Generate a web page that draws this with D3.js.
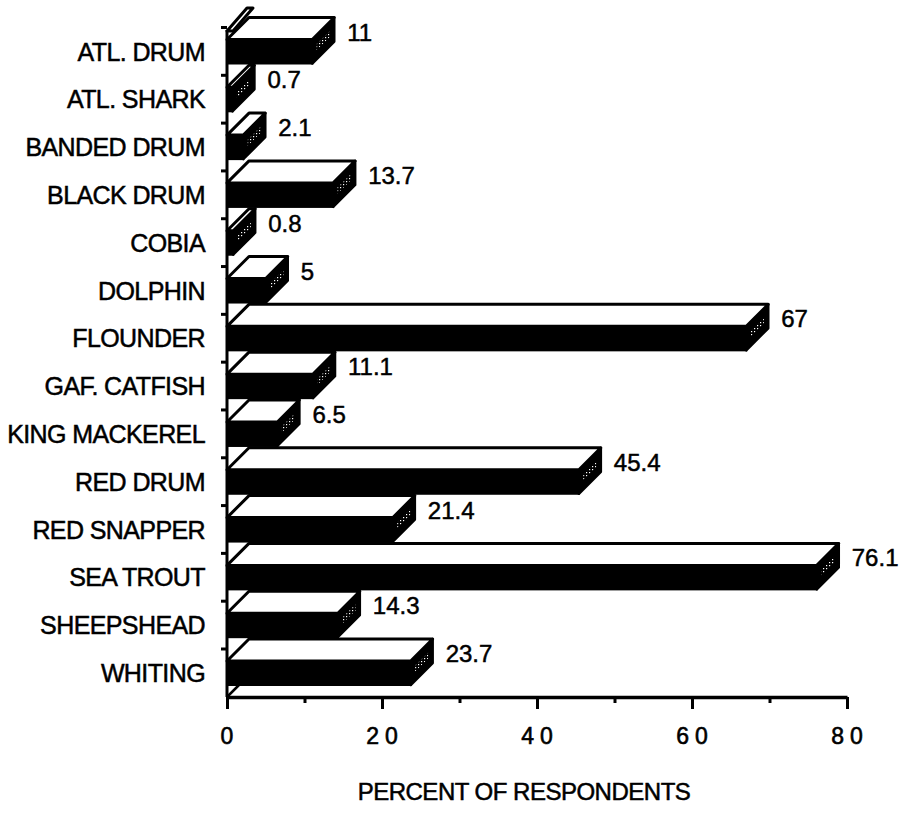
<!DOCTYPE html>
<html>
<head>
<meta charset="utf-8">
<script src="https://cdn.jsdelivr.net/npm/d3@7"></script>
<style>
  html, body { margin: 0; padding: 0; background: #fff; }
  svg { display: block; }
  text { font-family: "Liberation Sans", Arial, Helvetica, sans-serif; fill: #000; }
</style>
</head>
<body>
<svg id="chart" width="912" height="824"></svg>
<script>
// Species caught, share of respondents (%)
const categories = [
  "ATL. DRUM", "ATL. SHARK", "BANDED DRUM", "BLACK DRUM", "COBIA", "DOLPHIN",
  "FLOUNDER", "GAF. CATFISH", "KING MACKEREL", "RED DRUM", "RED SNAPPER",
  "SEA TROUT", "SHEEPSHEAD", "WHITING"
];
const values = [11, 0.7, 2.1, 13.7, 0.8, 5, 67, 11.1, 6.5, 45.4, 21.4, 76.1, 14.3, 23.7];
const majorTicks = [0, 20, 40, 60, 80];
const minorTicks = [10, 30, 50, 70];
const xTitle = "PERCENT OF RESPONDENTS";

const svg = d3.select("#chart");

const x = d3.scaleLinear().domain([0, 80]).range([227, 847]);
const y = d3.scalePoint().domain(categories).range([51.5, 673]);

const depth = 22;      // 3-D offset of the bars (right and up)
const half = 12;       // half height of a bar's front face
const axisY = 697;
const x0 = x(0);

// stipple used on the bar ends
const defs = svg.append("defs");
const pat = defs.append("pattern")
  .attr("id", "stipple").attr("patternUnits", "userSpaceOnUse")
  .attr("width", 3).attr("height", 3);
pat.append("rect").attr("width", 3).attr("height", 3).attr("fill", "#000");
pat.append("rect").attr("x", 1).attr("y", 1).attr("width", 1.2).attr("height", 1.2).attr("fill", "#fff");

// top edge of the back wall
svg.append("polygon")
  .attr("points", [[x0, 31], [x0 + depth - 2, 8], [x0 + depth + 4, 8], [x0 + 6, 31]].join(" "))
  .attr("fill", "#fff").attr("stroke", "#000").attr("stroke-width", 3)
  .attr("stroke-linejoin", "round");

// vertical axis with ticks between categories
svg.append("line")
  .attr("x1", x0).attr("x2", x0).attr("y1", 30).attr("y2", axisY)
  .attr("stroke", "#000").attr("stroke-width", 3);
svg.append("g").selectAll("line").data(categories).join("line")
  .attr("x1", x0 - 6).attr("x2", x0)
  .attr("y1", d => y(d) - 24).attr("y2", d => y(d) - 24)
  .attr("stroke", "#000").attr("stroke-width", 3);

// floor corner
svg.append("line")
  .attr("x1", x0).attr("y1", axisY).attr("x2", x0 + 13).attr("y2", axisY - 13)
  .attr("stroke", "#000").attr("stroke-width", 2.5);

// horizontal axis
const xAxis = d3.axisBottom(x)
  .tickValues(majorTicks.concat(minorTicks).sort((a, b) => a - b))
  .tickSizeOuter(0)
  .tickFormat("");
const gx = svg.append("g").attr("transform", `translate(0,${axisY})`).call(xAxis);
gx.select(".domain").attr("stroke", "#000").attr("stroke-width", 3.5);
gx.selectAll(".tick line")
  .attr("stroke", "#000").attr("stroke-width", 3)
  .attr("y2", d => majorTicks.includes(d) ? 12 : 6);

svg.append("g").selectAll("text").data(majorTicks).join("text")
  .attr("x", d => x(d) + 3)
  .attr("y", 744)
  .attr("text-anchor", "middle")
  .attr("font-size", 23)
  .attr("letter-spacing", 6)
  .attr("stroke", "#000").attr("stroke-width", 0.6)
  .text(d => d);

// bars
const bars = svg.append("g").selectAll("g").data(categories).join("g");

bars.each(function (cat, i) {
  const g = d3.select(this);
  const c = y(cat);
  const x1 = x(values[i]);
  const yt = c - half, yb = c + half;

  // front face
  g.append("rect")
    .attr("x", x0).attr("y", yt).attr("width", x1 - x0).attr("height", yb - yt)
    .attr("fill", "#000").attr("stroke", "#000").attr("stroke-width", 2);

  // end face
  g.append("polygon")
    .attr("points", [[x1, yt], [x1 + depth, yt - depth], [x1 + depth, yb - depth], [x1, yb]].join(" "))
    .attr("fill", "#000").attr("stroke", "#000").attr("stroke-width", 2.5)
    .attr("stroke-linejoin", "round");
  const p = (t, yy) => [x1 + t * depth, yy - t * depth];
  g.append("polygon")
    .attr("points", [p(0.2, c + 3), p(0.8, c + 3), p(0.8, c - 3), p(0.2, c - 3)].join(" "))
    .attr("fill", "url(#stipple)");

  // top face
  g.append("polygon")
    .attr("points", [[x0, yt], [x0 + depth, yt - depth], [x1 + depth, yt - depth], [x1, yt]].join(" "))
    .attr("fill", "#fff").attr("stroke", "#000").attr("stroke-width", 3)
    .attr("stroke-linejoin", "round");

  // value label
  g.append("text")
    .attr("x", x1 + depth + 13)
    .attr("y", c - 11)
    .attr("font-size", 24)
    .attr("stroke", "#000").attr("stroke-width", 0.5)
    .text(values[i]);
});

// category labels
svg.append("g").selectAll("text").data(categories).join("text")
  .attr("x", 205)
  .attr("y", d => y(d) + 9)
  .attr("text-anchor", "end")
  .attr("font-size", 25)
  .attr("letter-spacing", -0.6)
  .attr("stroke", "#000").attr("stroke-width", 0.5)
  .text(d => d);

// axis title
svg.append("text")
  .attr("x", 524)
  .attr("y", 800)
  .attr("text-anchor", "middle")
  .attr("font-size", 24)
  .attr("letter-spacing", -0.5)
  .attr("stroke", "#000").attr("stroke-width", 0.5)
  .text(xTitle);
</script>
</body>
</html>
